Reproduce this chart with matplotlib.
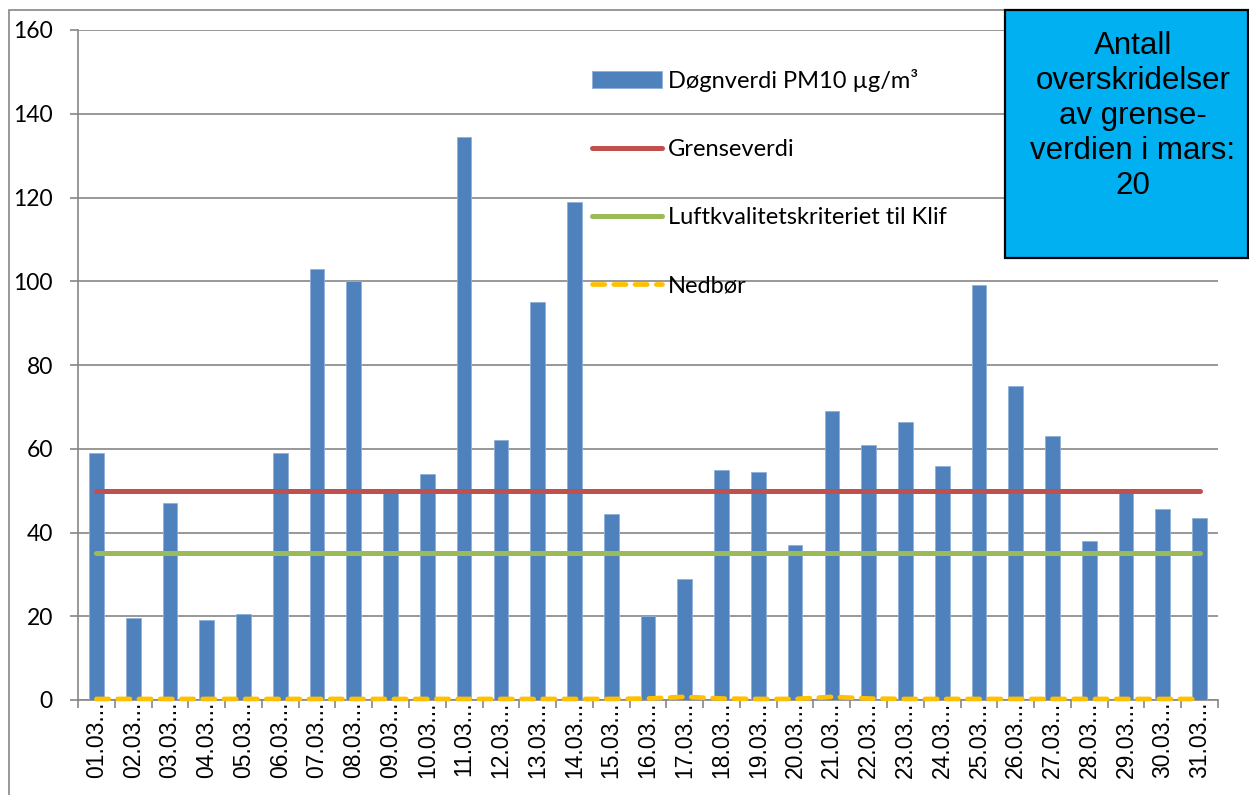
import matplotlib
matplotlib.use("Agg")
import matplotlib.pyplot as plt
from matplotlib.patches import Rectangle
import numpy as np

# ---- data ----
dates = [f"{d:02d}.03" for d in range(1, 32)]
pm10 = [59, 19.5, 47, 19, 20.5, 59, 103, 100, 50, 54,
        134.5, 62, 95, 119, 44.5, 20, 29, 55, 54.5, 37,
        69, 61, 66.5, 56, 99, 75, 63, 38, 50, 45.5, 43.5]
grenseverdi = [50] * 31
klif = [35] * 31
nedbor = [0, 0, 0, 0, 0, 0, 0, 0, 0, 0,
          0, 0, 0, 0, 0, 0.1, 0.5, 0.1, 0, 0,
          0.5, 0.1, 0, 0, 0, 0, 0, 0, 0, 0, 0]
yticks = [0, 20, 40, 60, 80, 100, 120, 140, 160]
box_text = "Antall\noverskridelser\nav grense-\nverdien i mars:\n20"

W, H = 1249, 795
fig = plt.figure(figsize=(W / 100, H / 100), dpi=100)
ax = fig.add_axes([78 / W, 1 - 700 / H, (1218 - 78) / W, (700 - 30) / H])

GRID = "#868686"
x = np.arange(len(dates))

h_bar = ax.bar(x, pm10, width=0.4, color="#4F81BD", edgecolor="#8FB0D8", linewidth=0.6,
               label="Døgnverdi PM10 µg/m³", zorder=3)
h_g, = ax.plot(x, grenseverdi, color="#C0504D", lw=3.6, solid_capstyle="round",
               label="Grenseverdi", zorder=4)
h_k, = ax.plot(x, klif, color="#9BBB59", lw=3.6, solid_capstyle="round",
               label="Luftkvalitetskriteriet til Klif", zorder=4)
h_n, = ax.plot(x, [v + 0.25 for v in nedbor], color="#FFC000", lw=3.4, dashes=(2.6, 1.9),
               dash_capstyle="round", label="Nedbør", zorder=5, clip_on=False)

ax.set_xlim(-0.5, len(dates) - 0.5)
ax.set_ylim(0, 160)
ax.set_yticks(yticks)
ax.yaxis.grid(True, color=GRID, lw=1.2, zorder=0)
ax.set_axisbelow(True)

for s in ["top", "right"]:
    ax.spines[s].set_visible(False)
for s in ["left", "bottom"]:
    ax.spines[s].set_color(GRID)
    ax.spines[s].set_linewidth(1.2)

ax.tick_params(axis="y", direction="out", length=6, width=1.2, color=GRID, pad=12)
for t in ax.get_yticklabels():
    t.set_fontfamily(["Lato", "DejaVu Sans"])
    t.set_fontsize(16.5)

ax.set_xticks(x)
ax.set_xticklabels([d + "..." for d in dates], rotation=90,
                   fontfamily=["Liberation Sans", "DejaVu Sans"], fontsize=16.5)
ax.set_xticks(np.arange(-0.5, len(dates)), minor=True)
ax.tick_params(axis="x", which="major", length=0, pad=1)
ax.tick_params(axis="x", which="minor", direction="out", length=6, width=1.2, color=GRID)

leg = ax.legend([h_bar, h_g, h_k, h_n],
                ["Døgnverdi PM10 µg/m³", "Grenseverdi",
                 "Luftkvalitetskriteriet til Klif", "Nedbør"],
                loc="upper left", bbox_to_anchor=(592 / W, 1 - 69 / H),
                bbox_transform=fig.transFigure, frameon=False,
                prop=dict(family=["Lato", "DejaVu Sans"], size=17),
                borderpad=0, borderaxespad=0, handlelength=2.95,
                handletextpad=0.25, labelspacing=2.0, handleheight=0.7)

# outer chart border
fig.patches.append(Rectangle((9 / W, -0.05), 1.2, 1.05 - 10 / H, transform=fig.transFigure,
                             fill=False, edgecolor=GRID, lw=1.2, zorder=0))
# annotation box
fig.patches.append(Rectangle((1005 / W, 1 - 258 / H), 243 / W, 248 / H,
                             transform=fig.transFigure, facecolor="#00B0F0",
                             edgecolor="black", lw=1.6, zorder=5))
fig.text(1133 / W, 1 - 116 / H, box_text, ha="center", va="center",
         multialignment="center", fontfamily=["Liberation Sans", "DejaVu Sans"],
         fontsize=22.5, linespacing=1.22, zorder=6)

fig.savefig("out.png", dpi=100)
